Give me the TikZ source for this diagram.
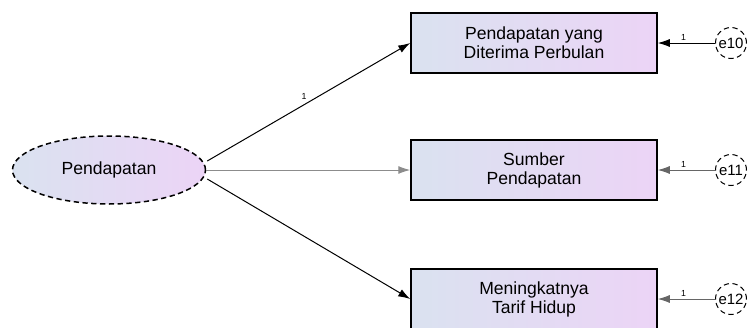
\documentclass[tikz,border=0pt]{standalone}
\usepackage{fontspec}
\setmainfont{Liberation Sans}
\usepackage{tikz}
\usetikzlibrary{arrows.meta}
\usetikzlibrary{shapes.geometric}

\definecolor{fillleft}{RGB}{218,226,240}
\definecolor{fillright}{RGB}{236,212,246}

\tikzset{
    indicator/.style={draw, line width=0.03cm, minimum width=4.920000cm, minimum height=1.200000cm,
        left color=fillleft, right color=fillright, align=center, inner sep=0pt},
    latent/.style={draw, ellipse, densely dashed, line width=0.03cm, minimum width=3.860000cm,
        minimum height=1.360000cm, left color=fillleft, right color=fillright},
    errterm/.style={draw, circle, densely dashed, line width=0.02cm, minimum size=0.620000cm,
        inner sep=0pt, fill=white, font=\fontsize{8.5}{9}\selectfont},
    path/.style={line width=0.02cm, -{Latex[length=0.24cm, width=0.16cm]}},
    weight/.style={font=\tiny, inner sep=1pt}
}

\begin{document}
\begin{tikzpicture}
                        \useasboundingbox (0,0) rectangle (15.000000,6.540000);
                        {\fontsize{10}{10.8}\selectfont

                        % Drawing latent variable
                        \node [latent] (pendapatan) at (2.180000,3.140000) {Pendapatan};%

                        % Drawing indicators
                        \node [indicator] (diterima) at (10.680000,5.680000) {Pendapatan yang\\Diterima Perbulan};%
                        \node [indicator] (sumber) at (10.680000,3.140000) {Sumber\\Pendapatan};%
                        \node [indicator] (tarif) at (10.680000,0.560000) {Meningkatnya\\Tarif Hidup};%

                        % Drawing error terms
                        \node [errterm] (e10) at (14.620000,5.680000) {e10};%
                        \node [errterm] (e11) at (14.620000,3.140000) {e11};%
                        \node [errterm] (e12) at (14.620000,0.560000) {e12};%

                        % Drawing loadings
                        \draw [path] (pendapatan.east) ++(0.02,0.18) coordinate (p1) -- (diterima.west)
                            node [weight, pos=0.5, above left] {1};%
                        \draw [path, draw=black!45] (pendapatan.east) -- (sumber.west);%
                        \draw [path] (pendapatan.east) ++(0.02,-0.18) coordinate (p3) -- (tarif.west);%

                        % Drawing error paths
                        \draw [path] (e10) -- (diterima) node [weight, pos=0.55, above] {1};%
                        \draw [path, draw=black!60] (e11) -- (sumber) node [weight, pos=0.55, above] {1};%
                        \draw [path, draw=black!60] (e12) -- (tarif) node [weight, pos=0.55, above] {1};%
                        }
                    \end{tikzpicture}
\end{document}
